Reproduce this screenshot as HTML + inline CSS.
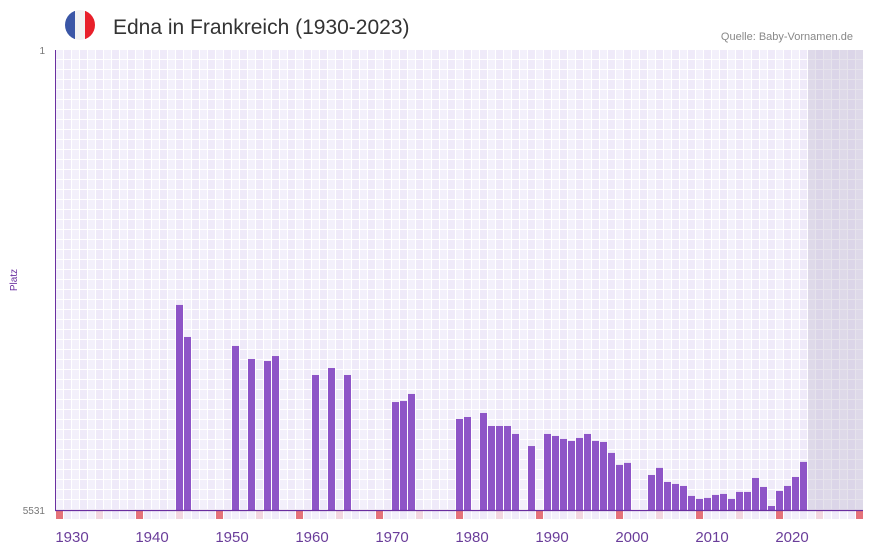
<!DOCTYPE html>
<html><head><meta charset="utf-8"><style>
body{margin:0;background:#fff;width:873px;height:552px;overflow:hidden;font-family:"Liberation Sans",sans-serif}
</style></head><body>
<svg width="873" height="552" xmlns="http://www.w3.org/2000/svg">
<defs><clipPath id="fc"><circle cx="80" cy="25" r="15"/></clipPath></defs>
<g clip-path="url(#fc)">
<rect x="65" y="10" width="10" height="30" fill="#3a56a6"/><rect x="75" y="10" width="10" height="30" fill="#f2f2f2"/><rect x="85" y="10" width="10" height="30" fill="#e8202a"/></g>
<text x="113" y="34" font-size="21" fill="#333">Edna in Frankreich (1930-2023)</text>
<text x="853" y="40" font-size="11" fill="#888" text-anchor="end">Quelle: Baby-Vornamen.de</text>
<g id="grid"></g>
<rect x="808" y="50" width="55" height="460" fill="#b8b0c8" opacity="0.35"/>
<g id="bars"></g>
<g id="marks"></g>
<line x1="55.5" y1="50" x2="55.5" y2="510" stroke="#6a2fa0" stroke-width="1"/>
<line x1="55" y1="510.5" x2="863" y2="510.5" stroke="#6a2fa0" stroke-width="1.2"/>
<text x="45" y="54" font-size="10" fill="#777" text-anchor="end">1</text>
<text x="45" y="514" font-size="10" fill="#777" text-anchor="end">5531</text>
<text transform="translate(17,280) rotate(-90)" font-size="10" fill="#6a2fa0" text-anchor="middle">Platz</text>
<g id="xt"></g>
</svg>
<script>
const years=[1943,1944,1950,1952,1954,1955,1960,1962,1964,1970,1971,1972,1978,1979,1981,1982,1983,1984,1985,1987,1989,1990,1991,1992,1993,1994,1995,1996,1997,1998,1999,2002,2003,2004,2005,2006,2007,2008,2009,2010,2011,2012,2013,2014,2015,2016,2017,2018,2019,2020,2021];
const ranks=[3066,3451,3559,3716,3740,3680,3908,3824,3908,4233,4221,4136,4437,4413,4365,4521,4521,4521,4617,4762,4617,4641,4677,4701,4665,4617,4701,4713,4845,4989,4965,5110,5025,5194,5218,5242,5362,5398,5386,5350,5338,5398,5314,5314,5146,5254,5483,5302,5242,5134,4953];
const tickYears=[1930,1940,1950,1960,1970,1980,1990,2000,2010,2020];
{
const NS="http://www.w3.org/2000/svg";
const x0=56,yw=8,base=1928,yTop=50,yBot=510,maxR=5531;
const xs=y=>x0+(y-base)*yw;
const ys=r=>yTop+(r-1)/(maxR-1)*(yBot-yTop);
function mk(t,a,p){const e=document.createElementNS(NS,t);for(const k in a)e.setAttribute(k,a[k]);p.appendChild(e);return e;}
const g=document.getElementById('grid');
for(let i=0;i<101;i++){
 mk('rect',{x:x0+i*8,y:50,width:7,height:469,fill:(i%2?'#efeaf9':'#f3f0fb')},g);
}
for(let j=1;j<47;j++){
 mk('rect',{x:56,y:50+j*10-1,width:807,height:1,fill:'#ffffff'},g);
}
const b=document.getElementById('bars');
years.forEach((y,i)=>{
 const r=mk('rect',{x:xs(y),y:ys(ranks[i]),width:7,height:yBot-ys(ranks[i]),fill:'#8e55c7'},b);
 
 
});
const m=document.getElementById('marks');
for(let y=1928;y<=2028;y+=5){
 const r=mk('rect',{x:xs(y),y:511,width:7,height:8,fill:((y-1928)%10==0)?'#e5727a':'#f2d6e0'},m);
 
 
}
const xt=document.getElementById('xt');
tickYears.forEach(y=>{
 const t=mk('text',{x:xs(y),y:542,'font-size':15,fill:'#6a3d9a','text-anchor':'middle'},xt);
 t.textContent=y;
 
 
});
}
</script>
</body></html>
